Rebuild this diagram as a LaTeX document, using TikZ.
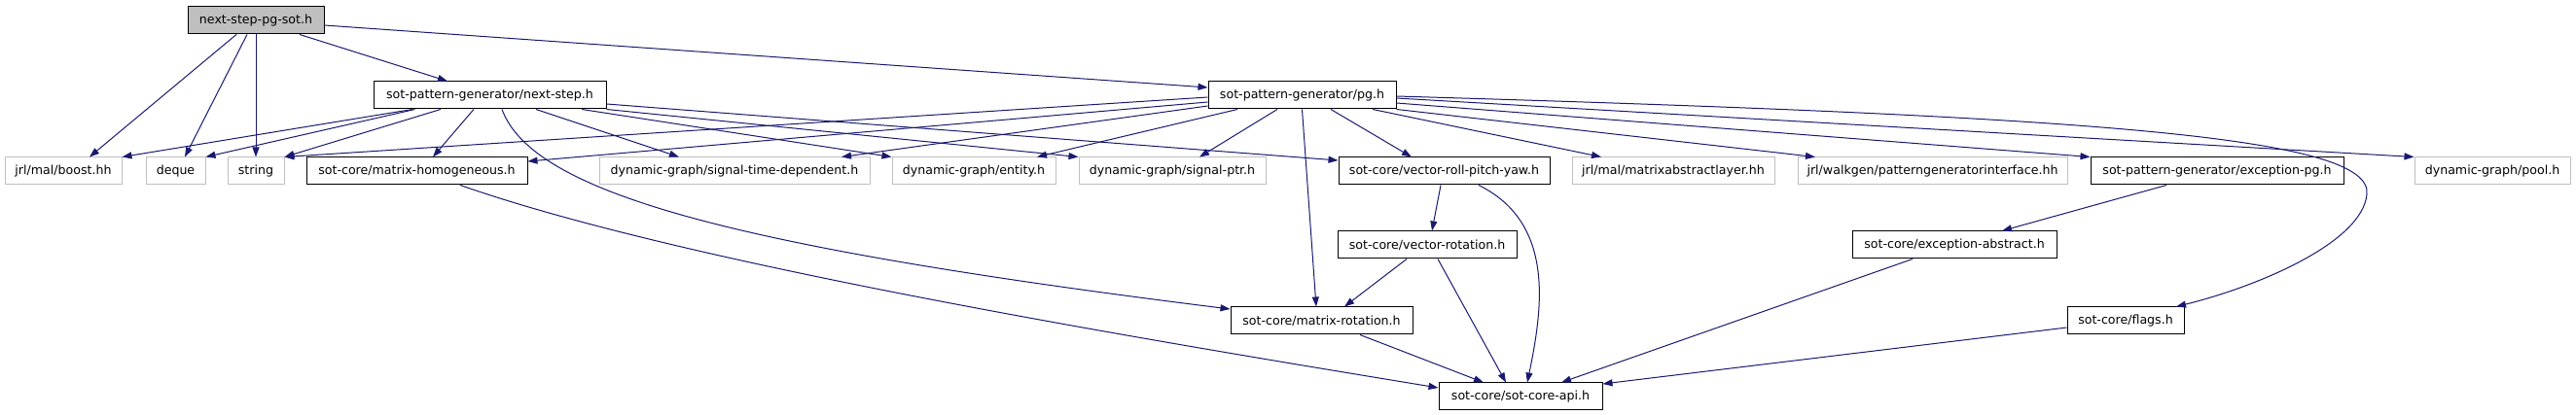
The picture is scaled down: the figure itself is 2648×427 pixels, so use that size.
\documentclass[tikz,border=0pt]{standalone}
\usepackage{fontspec}
\setmainfont{DejaVu Sans}
\usetikzlibrary{arrows.meta}
\definecolor{edgeblue}{HTML}{191970}
\definecolor{boxgray}{HTML}{BFBFBF}
\begin{document}
\begin{tikzpicture}[x=1pt,y=-1pt,
  hbox/.style={draw=black,line width=1pt,minimum height=28pt,inner sep=0pt,fill=white,font=\fontsize{12.6}{14}\selectfont},
  gbox/.style={hbox,draw=boxgray},
  rootbox/.style={hbox,fill=boxgray},
  dep/.style={draw=edgeblue,line width=1pt,-{Triangle[length=10pt,width=7pt]}}]
\useasboundingbox[fill=white] (0,0) rectangle (2648,427);

% row 1
\node[rootbox,minimum width=140pt] (A) at (263,21) {next-step-pg-sot.h};
% row 2
\node[hbox,minimum width=239pt] (N) at (503.5,98) {sot-pattern-generator/next-step.h};
\node[hbox,minimum width=193pt] (P) at (1338.5,98) {sot-pattern-generator/pg.h};
% row 3
\node[gbox,minimum width=120pt] (boost) at (65,176) {jrl/mal/boost.hh};
\node[gbox,minimum width=61pt] (deque) at (180.5,176) {deque};
\node[gbox,minimum width=58pt] (string) at (263,176) {string};
\node[hbox,minimum width=227pt] (MH) at (428.5,176) {sot-core/matrix-homogeneous.h};
\node[gbox,minimum width=278pt] (STD) at (755,176) {dynamic-graph/signal-time-dependent.h};
\node[gbox,minimum width=168pt] (entity) at (1001,176) {dynamic-graph/entity.h};
\node[gbox,minimum width=192pt] (sptr) at (1205,176) {dynamic-graph/signal-ptr.h};
\node[hbox,minimum width=217pt] (V) at (1484.5,176) {sot-core/vector-roll-pitch-yaw.h};
\node[gbox,minimum width=208pt] (MAL) at (1720,176) {jrl/mal/matrixabstractlayer.hh};
\node[gbox,minimum width=277pt] (PGI) at (1986.5,176) {jrl/walkgen/patterngeneratorinterface.hh};
\node[hbox,minimum width=260pt] (EP) at (2279,176) {sot-pattern-generator/exception-pg.h};
\node[gbox,minimum width=160pt] (pool) at (2562,176) {dynamic-graph/pool.h};
% row 4
\node[hbox,minimum width=184pt] (VR) at (1467,252) {sot-core/vector-rotation.h};
\node[hbox,minimum width=210pt] (EA) at (2009,252) {sot-core/exception-abstract.h};
% row 5
\node[hbox,minimum width=187pt] (MR) at (1358.5,330) {sot-core/matrix-rotation.h};
\node[hbox,minimum width=120pt] (F) at (2185,330) {sot-core/flags.h};
% row 6
\node[hbox,minimum width=168pt] (api) at (1563,408) {sot-core/sot-core-api.h};

% edges from next-step-pg-sot.h
\draw[dep] ([xshift=-20pt]A.south) -- ([xshift=27pt]boost.north);
\draw[dep] ([xshift=-9pt]A.south) -- ([xshift=9.5pt]deque.north);
\draw[dep] (A.south) -- (string.north);
\draw[dep] ([xshift=45pt]A.south) -- ([xshift=-43.5pt]N.north);
\draw[dep] ([yshift=-5pt]A.east) -- ([yshift=8pt]P.west);

% edges from next-step.h
\draw[dep] ([xshift=-79.5pt]N.south) -- (boost.north east);
\draw[dep] ([xshift=-77pt]N.south) -- (deque.north east);
\draw[dep] ([xshift=-50.5pt]N.south) -- (string.north east);
\draw[dep] ([xshift=-16.5pt]N.south) -- ([xshift=16.5pt]MH.north);
\draw[dep] ([xshift=12.5pt]N.south) .. controls (548,200) and (760,255) .. ([yshift=12pt]MR.west);
\draw[dep] ([xshift=47.5pt]N.south) -- ([xshift=-57pt]STD.north);
\draw[dep] ([xshift=94.5pt]N.south) -- (entity.north west);
\draw[dep] (N.south east) -- (sptr.north west);
\draw[dep] ([yshift=-9pt]N.east) -- ([yshift=11pt]V.west);

% edges from pg.h
\draw[dep] ([yshift=-2pt]P.west) -- (string.north east);
\draw[dep] ([yshift=-7pt]P.west) -- ([yshift=10pt]MH.east);
\draw[dep] ([yshift=-11pt]P.west) -- ([xshift=110pt]STD.north);
\draw[dep] ([xshift=-66.5pt]P.south) -- ([xshift=65pt]entity.north);
\draw[dep] ([xshift=-25.5pt]P.south) -- ([xshift=28pt]sptr.north);
\draw[dep] ([xshift=29.5pt]P.south) -- ([xshift=-33.5pt]V.north);
\draw[dep] (P.south) -- ([xshift=-5.5pt]MR.north);
\draw[dep] ([xshift=72.5pt]P.south) -- ([xshift=-74pt]MAL.north);
\draw[dep] (P.south east) -- ([xshift=-120.5pt]PGI.north);
\draw[dep] ([yshift=-8pt]P.east) -- (EP.north west);
\draw[dep] ([yshift=-3pt]P.east) -- (pool.north west);
\draw[dep] ([yshift=-1pt]P.east) .. controls (2150,120) and (2440,140) .. (2433,200)
  .. controls (2428,250) and (2320,295) .. ([xshift=52pt]F.north);

% lower edges
\draw[dep] ([xshift=-3.5pt]V.south) -- ([xshift=5pt]VR.north);
\draw[dep] ([xshift=35.5pt]V.south) .. controls (1600,230) and (1585,320) .. ([xshift=7pt]api.north);
\draw[dep] ([xshift=-21pt]VR.south) -- ([xshift=23.5pt]MR.north);
\draw[dep] ([xshift=11pt]VR.south) -- ([xshift=-15pt]api.north);
\draw[dep] ([xshift=39.5pt]MR.south) -- ([xshift=-38pt]api.north);
\draw[dep] ([xshift=44.5pt]MH.south) .. controls (700,270) and (1150,345) .. ([yshift=9pt]api.west);
\draw[dep] ([xshift=-52pt]EP.south) -- ([xshift=49pt]EA.north);
\draw[dep] ([xshift=-43pt]EA.south) -- ([xshift=42pt]api.north);
\draw[dep] ([yshift=-7pt]F.west) -- ([yshift=13pt]api.east);
\end{tikzpicture}
\end{document}
